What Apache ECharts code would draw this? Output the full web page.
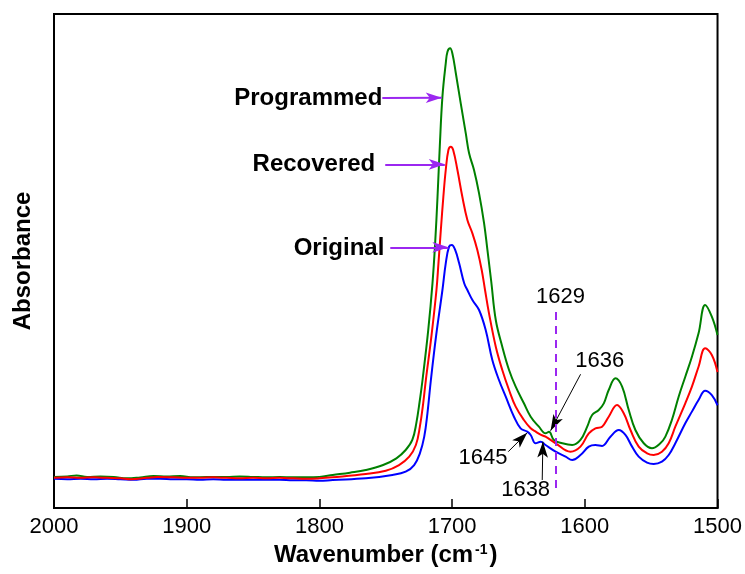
<!DOCTYPE html>
<html>
<head>
<meta charset="utf-8">
<script src="https://cdn.jsdelivr.net/npm/echarts@6/dist/echarts.min.js"></script>
<style>
	html, body { margin: 0; padding: 0; background: #fff; }
	#main { width: 745px; height: 574px; }
</style>
</head>
<body>
<div id="main"></div>
<script>
// 光谱数据: [波数 cm-1, 吸光度]
var programmed = [
	[2000,0.063],[1990,0.064],[1983,0.066],[1975,0.063],[1965,0.064],[1955,0.063],[1945,0.060],
	[1935,0.062],[1925,0.065],[1915,0.064],[1905,0.065],[1895,0.062],[1885,0.063],[1870,0.063],
	[1860,0.064],[1850,0.063],[1840,0.062],[1830,0.063],[1820,0.062],[1810,0.062],[1800,0.063],
	[1790,0.0668],[1777,0.0715],[1765,0.0769],[1752,0.087],[1742,0.1006],[1735,0.1174],[1730,0.1377],
	[1727,0.1714],[1724.3,0.2186],[1722.3,0.2591],[1718,0.36],[1714.8,0.4548],[1712.8,0.5358],
	[1711,0.630],[1709.3,0.7314],[1707.3,0.8326],[1704.8,0.900],[1703.5,0.9237],[1701.5,0.9305],
	[1699.8,0.920],[1697.2,0.880],[1693.5,0.8192],[1689.7,0.7584],[1687.2,0.718],[1683.5,0.6842],
	[1679.7,0.637],[1675.9,0.5763],[1673.4,0.5223],[1670.5,0.458],[1667.1,0.3806],[1662.2,0.3266],
	[1657.1,0.2794],[1652.1,0.2456],[1645.9,0.2119],[1640.8,0.1848],[1634.6,0.1646],[1629.6,0.1511],
	[1627,0.1545],[1623.3,0.1377],[1617,0.131],[1609.5,0.1275],[1603.3,0.1377],[1598.2,0.1646],
	[1594.5,0.1883],[1589.5,0.1984],[1585.7,0.2119],[1582,0.2389],[1576.9,0.2625],[1571.9,0.2456],
	[1566.9,0.1984],[1561.9,0.1579],[1555.6,0.131],[1549.4,0.1209],[1543.1,0.131],[1539.3,0.1444],
	[1534.4,0.1781],[1529.3,0.2253],[1524.3,0.2658],[1519.3,0.3063],[1514.3,0.3536],[1509.3,0.4109],
	[1504.3,0.3873],[1500,0.350]
];
var recovered = [
	[2000,0.061],[1990,0.062],[1980,0.061],[1970,0.062],[1960,0.061],[1950,0.060],[1942,0.058],
	[1930,0.061],[1922,0.063],[1910,0.062],[1900,0.061],[1890,0.061],[1880,0.062],[1870,0.061],
	[1860,0.060],[1850,0.061],[1840,0.060],[1830,0.061],[1820,0.060],[1810,0.059],[1800,0.060],
	[1790,0.0621],[1765,0.0688],[1750,0.0755],[1740,0.087],[1732.3,0.1039],[1727.3,0.1275],
	[1724.3,0.1646],[1721.8,0.2119],[1719.8,0.2591],[1715.5,0.35],[1711.8,0.4413],[1710.3,0.4953],
	[1708.5,0.5628],[1706.6,0.630],[1704.8,0.6842],[1702.8,0.7247],[1701,0.7314],[1699.2,0.7247],
	[1696,0.6842],[1692.3,0.630],[1688.5,0.583],[1684.7,0.556],[1681,0.5223],[1677.7,0.4818],
	[1675.2,0.4413],[1672.2,0.394],[1667.1,0.3266],[1662.2,0.2794],[1657.1,0.2389],[1652.1,0.2051],
	[1645.9,0.1781],[1640.8,0.1613],[1637,0.1545],[1633,0.148],[1629.6,0.1444],[1622,0.131],
	[1610.8,0.114],[1603.3,0.1242],[1597,0.1511],[1592,0.1613],[1587,0.1646],[1582,0.1848],
	[1575.7,0.2085],[1570.7,0.1917],[1565.6,0.1579],[1559.4,0.1242],[1553.1,0.1107],[1548.1,0.1073],
	[1541.9,0.114],[1536.8,0.131],[1531.8,0.1646],[1524.3,0.2119],[1519.3,0.2456],[1514.3,0.286],
	[1509.3,0.3233],[1504.3,0.3097],[1500,0.275]
];
var original = [
	[2000,0.059],[1990,0.058],[1980,0.059],[1970,0.058],[1960,0.059],[1950,0.058],[1940,0.057],
	[1930,0.059],[1920,0.059],[1910,0.058],[1900,0.058],[1890,0.057],[1880,0.058],[1870,0.057],
	[1860,0.057],[1850,0.057],[1840,0.057],[1830,0.057],[1820,0.056],[1810,0.056],[1800,0.055],
	[1790,0.0567],[1765,0.0601],[1745,0.0668],[1735,0.0735],[1728.6,0.087],[1724.3,0.1107],
	[1721,0.1444],[1718.6,0.1917],[1716,0.2591],[1712,0.35],[1707.3,0.4413],[1704.8,0.4953],
	[1702.3,0.529],[1700.2,0.5324],[1697.7,0.5223],[1694.7,0.4953],[1690.9,0.4548],[1688.5,0.4413],
	[1684.7,0.421],[1679.7,0.4008],[1674.7,0.3603],[1669.7,0.2996],[1664.7,0.2591],[1659.6,0.2253],
	[1653.4,0.1848],[1648.4,0.1613],[1643.4,0.1545],[1640.8,0.1478],[1637.1,0.131],[1633.3,0.1343],
	[1629.6,0.1275],[1622,0.114],[1614.5,0.1039],[1609.5,0.0972],[1603.3,0.1073],[1597,0.1242],
	[1592,0.1275],[1587,0.1255],[1580.7,0.1444],[1574.4,0.1579],[1569.4,0.1478],[1564.4,0.1242],
	[1559.4,0.1039],[1553.1,0.0918],[1548.1,0.0891],[1541.9,0.0938],[1536.8,0.1073],[1531.8,0.131],
	[1524.3,0.1714],[1519.3,0.1951],[1514.3,0.2186],[1509.3,0.2375],[1504.3,0.2287],[1500,0.208]
];

// 标注: 名称箭头 (文字, 起点, 终点)
var nameLabels = ['Programmed', 'Recovered', 'Original'];
var nameFrom = [[1752.6,0.830],[1750.4,0.6957],[1746.6,0.5277]];
var nameTo = [[1707.8,0.8306],[1705.5,0.6957],[1702.8,0.5277]];
var nameText = [[1752.6,0.830],[1757.9,0.6964],[1751.1,0.5263]];

// 标注: 峰位箭头
var peakLabels = ['1636', '1645', '1638'];
var peakFrom = [[1603.2,0.2707],[1657.7,0.114],[1632.1,0.0567]];
var peakTo = [[1625.8,0.1565],[1643.4,0.1524],[1631.6,0.1342]];
var peakText = [[1588.7,0.2976],[1676.7,0.1012],[1644.6,0.0364]];

// 虚线 1629
var dashLabel = '1629';
var dashX = 1622;
var dashRange = [0.033, 0.397];
var dashText = [1618.3, 0.4277];

var xTicks = { min: 1500, max: 2000, interval: 100 };

var FONT = 'Arial, "Liberation Sans", sans-serif';
var PURPLE = '#9b27f0';

var arrowLines = [];
nameFrom.forEach(function (p, i) {
	arrowLines.push([{ coord: p, lineStyle: { color: PURPLE, width: 2, type: 'solid' }, symbolSize: [11, 16] }, { coord: nameTo[i] }]);
});
peakFrom.forEach(function (p, i) {
	arrowLines.push([{ coord: p, lineStyle: { color: '#000', width: 1, type: 'solid' }, symbolSize: [7, 12] }, { coord: peakTo[i] }]);
});
arrowLines.push([
	{ coord: [dashX, dashRange[1]], symbol: 'none', lineStyle: { color: PURPLE, width: 2, type: [8, 6] } },
	{ coord: [dashX, dashRange[0]], symbol: 'none' }
]);

var textPoints = [];
nameText.forEach(function (p, i) {
	textPoints.push({
		coord: p,
		label: { formatter: nameLabels[i], position: 'left', distance: 0, fontWeight: 'bold', fontSize: 24 }
	});
});
peakText.forEach(function (p, i) {
	textPoints.push({ coord: p, label: { formatter: peakLabels[i], position: 'inside', fontSize: 22 } });
});
textPoints.push({ coord: dashText, label: { formatter: dashLabel, position: 'inside', fontSize: 22 } });

var chart = echarts.init(document.getElementById('main'));

var option = {
	animation: false,
	grid: {
		left: 54, right: 26, top: 14, bottom: 66,
		show: true, borderColor: '#000', borderWidth: 2, backgroundColor: 'transparent'
	},
	xAxis: {
		type: 'value',
		inverse: true,
		min: xTicks.min,
		max: xTicks.max,
		interval: xTicks.interval,
		name: '{a|Wavenumber (cm}{b|-1}{a|)}',
		nameLocation: 'middle',
		nameGap: 30,
		nameTextStyle: {
			rich: {
				a: { fontFamily: FONT, fontWeight: 'bold', fontSize: 24, color: '#000' },
				b: { fontFamily: FONT, fontWeight: 'bold', fontSize: 14, color: '#000', verticalAlign: 'top', padding: [0, 2, 10, 2] }
			}
		},
		axisLine: { lineStyle: { color: '#000', width: 2 } },
		axisTick: { inside: true, length: 9, lineStyle: { color: '#000', width: 1.5 } },
		axisLabel: {
			fontFamily: FONT, fontSize: 22, color: '#000', margin: 8,
			formatter: function (v) { return String(v); }
		},
		splitLine: { show: false }
	},
	yAxis: {
		type: 'value',
		min: 0,
		max: 1,
		name: 'Absorbance',
		nameLocation: 'middle',
		nameGap: 19,
		nameTextStyle: { fontFamily: FONT, fontWeight: 'bold', fontSize: 24, color: '#000' },
		axisLine: { show: true, lineStyle: { color: '#000', width: 2 } },
		axisTick: { show: false },
		axisLabel: { show: false },
		splitLine: { show: false }
	},
	series: [
		{
			name: 'Programmed', type: 'line', data: programmed, smooth: 0.4, showSymbol: false,
			lineStyle: { color: '#008000', width: 2 }, z: 2
		},
		{
			name: 'Original', type: 'line', data: original, smooth: 0.4, showSymbol: false,
			lineStyle: { color: '#0000ff', width: 2 }, z: 3
		},
		{
			name: 'Recovered', type: 'line', data: recovered, smooth: 0.4, showSymbol: false,
			lineStyle: { color: '#ff0000', width: 2 }, z: 4,
			markLine: {
				silent: true,
				symbol: ['none', 'arrow'],
				label: { show: false },
				lineStyle: { type: 'solid' },
				emphasis: { disabled: true },
				data: arrowLines
			},
			markPoint: {
				silent: true,
				symbol: 'circle',
				symbolSize: 0,
				label: { show: true, color: '#000', fontFamily: FONT },
				data: textPoints
			}
		}
	]
};

chart.setOption(option);
</script>
</body>
</html>
